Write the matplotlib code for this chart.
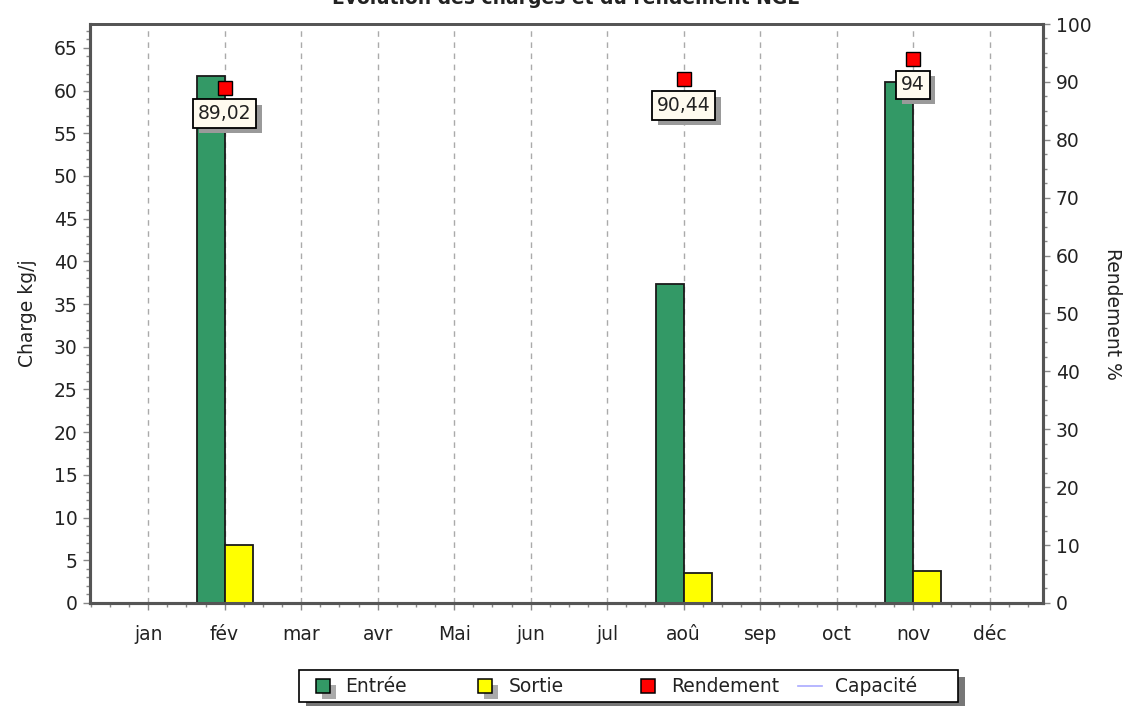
import numpy as np
import matplotlib
matplotlib.use("Agg")
import matplotlib.pyplot as plt
import matplotlib.patheffects as pe
from matplotlib.patches import Rectangle
from matplotlib.lines import Line2D
from matplotlib.ticker import MultipleLocator

plt.rcParams['font.family'] = ['DejaVu Sans']

# données
mois = ['jan', 'fév', 'mar', 'avr', 'Mai', 'jun', 'jul', 'aoû', 'sep', 'oct', 'nov', 'déc']
entree = [0, 61.7, 0, 0, 0, 0, 0, 37.3, 0, 0, 61.0, 0]
sortie = [0, 6.8, 0, 0, 0, 0, 0, 3.5, 0, 0, 3.75, 0]
rend_idx = [1, 7, 10]
rendement = [89.02, 90.44, 94]
rend_txt = ['89,02', '90,44', '94']
legende = ['Entrée', 'Sortie', 'Rendement', 'Capacité']

VERT = '#339966'
JAUNE = '#ffff00'
ROUGE = '#ff0000'
BLEU = '#aaaaff'
AXE = '#555555'
TXT = '#222222'
FS = 13.5

W, H = 1140, 706


def fx(x):
    return x / W


def fy(y):
    return 1 - y / H


def ombre(d, c='#9a9a9a'):
    return [pe.SimplePatchShadow(offset=(d, -d), shadow_rgbFace=c, alpha=1), pe.Normal()]


fig = plt.figure(figsize=(11.4, 7.06), dpi=100)
ax = fig.add_axes([0.079, 0.146, 0.836, 0.820])
ax2 = ax.twinx()

x = np.arange(len(mois))
w = 0.366
ax.bar(x - w / 2, entree, width=w, color=VERT, edgecolor='#1a1a1a', linewidth=1.3, zorder=3)
ax.bar(x + w / 2, sortie, width=w, color=JAUNE, edgecolor='#1a1a1a', linewidth=1.3, zorder=3)

ax.set_xlim(-0.76, 11.7)
ax.set_ylim(0, 67.8)
ax2.set_ylim(0, 100)

ax.set_xticks(x)
ax.set_xticklabels(mois)
ax.xaxis.set_minor_locator(MultipleLocator(0.25))
ax.yaxis.set_major_locator(MultipleLocator(5))
ax.yaxis.set_minor_locator(MultipleLocator(1))
ax2.yaxis.set_major_locator(MultipleLocator(10))
ax2.yaxis.set_minor_locator(MultipleLocator(2.5))

for a in (ax, ax2):
    a.tick_params(which='major', length=5, width=1, color='#888888', labelsize=FS, labelcolor=TXT)
    a.tick_params(which='minor', length=3, width=1, color='#888888')
    for s in a.spines.values():
        s.set_color(AXE)
    a.spines['left'].set_linewidth(2.2)
    a.spines['right'].set_linewidth(2.2)
    a.spines['bottom'].set_linewidth(2.2)
    a.spines['top'].set_linewidth(2)
ax.tick_params(axis='x', pad=11)
ax.tick_params(axis='y', pad=4)
ax2.tick_params(axis='y', pad=4)

ax.grid(axis='x', linestyle=(0, (4, 4)), color='#aaaaaa', linewidth=1, zorder=0)
ax.set_axisbelow(True)

ax.set_ylabel('Charge kg/j', fontsize=FS, color=TXT, labelpad=12)
ax2.set_ylabel('Rendement %', fontsize=FS, color=TXT, rotation=270, labelpad=22)

# rendement
ax2.plot(rend_idx, rendement, linestyle='none', marker='s', markersize=10.5,
         markerfacecolor=ROUGE, markeredgecolor='black', markeredgewidth=1, zorder=5)
for xi, yi, t in zip(rend_idx, rendement, rend_txt):
    ann = ax2.annotate(t, (xi, yi), xytext=(0, -26), textcoords='offset pixels',
                       ha='center', va='center', fontsize=FS, color=TXT, zorder=6,
                       bbox=dict(boxstyle='square,pad=0.25', facecolor='#fffbef',
                                 edgecolor='black', linewidth=1.3))
    ann.get_bbox_patch().set_path_effects(ombre(4))

fig.text(0.496, 0.995, 'Evolution des charges et du rendement NGL', ha='center',
         va='baseline', fontsize=13.5, fontweight='bold', color=TXT)

# légende dessinée à la main (espacements inégaux comme l'original)
cadre = Rectangle((fx(299), fy(702)), fx(958) - fx(299), fy(670) - fy(702),
                  transform=fig.transFigure, facecolor='white', edgecolor='black', linewidth=1.2)
cadre.set_path_effects(ombre(5, '#777777'))
fig.patches.append(cadre)

yc = 686
couleurs = [VERT, JAUNE, ROUGE]
x_carre = [316, 478, 641]
x_texte = [345, 509, 671, 835]
for i in range(3):
    r = Rectangle((fx(x_carre[i]), fy(yc + 7)), 14 / W, 14 / H,
                  transform=fig.transFigure, facecolor=couleurs[i], edgecolor='black', linewidth=1.1)
    if i < 2:
        r.set_path_effects(ombre(4, '#aaaaaa'))
    fig.patches.append(r)
fig.lines.append(Line2D([fx(798), fx(822)], [fy(yc), fy(yc)], transform=fig.transFigure,
                        color=BLEU, linewidth=1.2))
for xt, lab in zip(x_texte, legende):
    fig.text(fx(xt), fy(yc), lab, ha='left', va='center', fontsize=FS, color=TXT)

fig.savefig('out.png', dpi=100)
